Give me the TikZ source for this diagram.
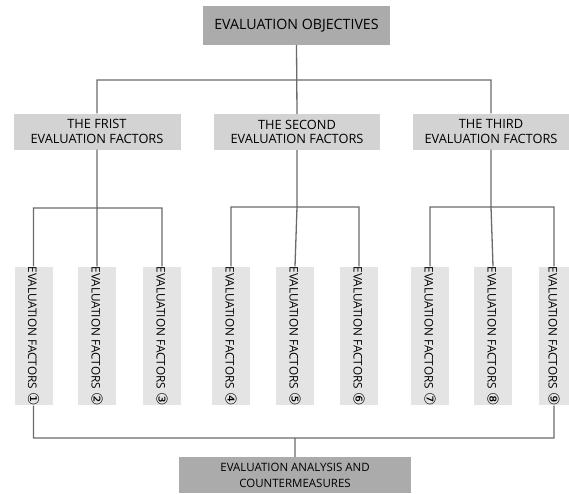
\documentclass[tikz,border=0pt]{standalone}
\usepackage{fontspec}
\setmainfont{Open Sans}
\newfontfamily\circfont{DejaVu Sans}
\usetikzlibrary{positioning}

\definecolor{topgray}{HTML}{ABABAB}
\definecolor{midgray}{HTML}{D3D3D3}
\definecolor{lowgray}{HTML}{E4E4E4}
\definecolor{linegray}{HTML}{6A6A6A}

\tikzset{
  objbox/.style={fill=topgray, inner sep=0pt, minimum width=187pt, minimum height=39pt,
    font=\fontsize{14.2}{16}\selectfont},
  groupbox/.style={fill=midgray, inner sep=0pt, minimum height=36pt, align=center,
    font=\fontsize{12.8}{14.5}\selectfont},
  factorbox/.style={fill=lowgray, inner sep=0pt, rotate=-90, minimum width=138pt,
    minimum height=38pt, font=\fontsize{11.8}{13}\selectfont},
  resultbox/.style={fill=topgray, inner sep=0pt, minimum width=232pt, minimum height=36pt,
    align=center, font=\fontsize{11.5}{16}\selectfont},
  link/.style={draw=linegray, line width=1.3pt}
}
\newcommand{\factortext}[1]{EVALUATION FACTORS {\circfont\fontsize{15}{15}\selectfont #1}}

\begin{document}
\begin{tikzpicture}[x=1pt, y=-1pt]
        \useasboundingbox (0,0) rectangle (569,493);
        % Define the nodes
        \node[objbox] (obj) at (296.5,25.5) {EVALUATION OBJECTIVES};
        \node[groupbox, minimum width=167pt] (first) at (97,131.5) {THE FRIST\\EVALUATION FACTORS};
        \node[groupbox, minimum width=166pt] (second) at (297,132) {THE SECOND\\EVALUATION FACTORS};
        \node[groupbox, minimum width=156pt] (third) at (491,131.5) {THE THIRD\\EVALUATION FACTORS};
        \node[factorbox] (fac1) at (33.5,336) {\factortext{①}};
        \node[factorbox] (fac2) at (97,336) {\factortext{②}};
        \node[factorbox] (fac3) at (162,336) {\factortext{③}};
        \node[factorbox] (fac4) at (231,336) {\factortext{④}};
        \node[factorbox] (fac5) at (295,336) {\factortext{⑤}};
        \node[factorbox] (fac6) at (359,336) {\factortext{⑥}};
        \node[factorbox] (fac7) at (430,336) {\factortext{⑦}};
        \node[factorbox] (fac8) at (493,336) {\factortext{⑧}};
        \node[factorbox, minimum height=30pt] (fac9) at (554,336) {\factortext{⑨}};
        \node[resultbox] (result) at (295,475) {EVALUATION ANALYSIS AND\\COUNTERMEASURES};
        % Define the junctions
        \coordinate (topbus) at (297,80);
        \coordinate (bus1) at (97,208);
        \coordinate (bus2) at (297,207);
        \coordinate (bus3) at (491,207);
        \coordinate (lowbus) at (295,438);
        % Define the connectors
        \path[link]
        (obj.south) -- (second.north)
        (first.north) |- (topbus) -| (third.north)
        (first.south) -- (bus1)
        (fac1.west) |- (bus1) -| (fac3.west)
        (bus1) -- (fac2.west)
        (second.south) -- (bus2)
        (fac4.west) |- (bus2) -| (fac6.west)
        (bus2) -- (fac5.west)
        (third.south) -- (bus3)
        (fac7.west) |- (bus3) -| (fac9.west)
        (bus3) -- (fac8.west)
        (fac1.east) |- (lowbus) -| (fac9.east)
        (lowbus) -- (result.north);
    \end{tikzpicture}
\end{document}
